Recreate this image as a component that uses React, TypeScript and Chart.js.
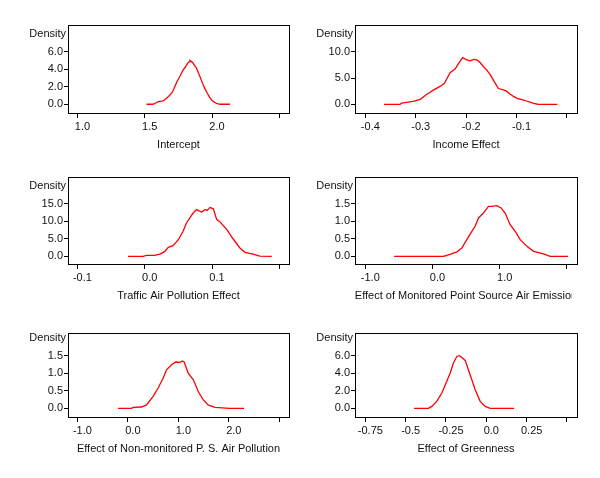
import React, { useEffect, useRef } from 'react';
import { Chart, registerables } from 'chart.js';

Chart.register(...registerables);

const FONT = '"Liberation Sans", Arial, Helvetica, sans-serif';

// ---------- Data ----------
// Panel 1: Intercept
const interceptX = [1.513, 1.56, 1.59, 1.6, 1.625, 1.637, 1.65, 1.662, 1.68, 1.7, 1.712, 1.724, 1.74, 1.761, 1.775, 1.786, 1.8, 1.811, 1.822, 1.83, 1.836, 1.845, 1.856, 1.87, 1.885, 1.898, 1.91, 1.922, 1.935, 1.95, 1.965, 1.98, 1.997, 2.015, 2.034, 2.06, 2.133];
const interceptY = [0, 0, 0.2, 0.3, 0.35, 0.38, 0.55, 0.69, 0.95, 1.26, 1.6, 2.02, 2.6, 3.17, 3.6, 3.93, 4.2, 4.5, 4.75, 4.85, 5.02, 4.9, 4.77, 4.45, 4.13, 3.6, 3.17, 2.7, 2.21, 1.7, 1.26, 0.85, 0.49, 0.25, 0.11, 0, 0];
const interceptXTicks = [1.0, 1.5, 2.0, 2.5];
const interceptXLabels = ['1.0', '1.5', '2.0', ''];
const interceptYTicks = [0, 2, 4, 6];
const interceptYLabels = ['0.0', '2.0', '4.0', '6.0'];

// Panel 2: Income Effect
const incomeX = [-0.363, -0.331, -0.328, -0.305, -0.291, -0.285, -0.278, -0.265, -0.252, -0.243, -0.238, -0.232, -0.222, -0.215, -0.207, -0.2, -0.192, -0.185, -0.178, -0.172, -0.166, -0.159, -0.152, -0.146, -0.136, -0.126, -0.12, -0.113, -0.106, -0.099, -0.086, -0.076, -0.066, -0.06, -0.056, -0.019];
const incomeY = [0, 0, 0.25, 0.55, 0.95, 1.4, 1.9, 2.7, 3.4, 4.0, 4.9, 6.0, 6.7, 7.8, 8.9, 8.5, 8.25, 8.55, 8.4, 7.9, 7.2, 6.5, 5.6, 4.6, 3.0, 2.75, 2.5, 1.96, 1.5, 1.14, 0.82, 0.49, 0.2, 0.06, 0, 0];
const incomeXTicks = [-0.4, -0.3, -0.2, -0.1, 0.0];
const incomeXLabels = ['-0.4', '-0.3', '-0.2', '-0.1', ''];
const incomeYTicks = [0, 5, 10];
const incomeYLabels = ['0.0', '5.0', '10.0'];

// Panel 3: Traffic Air Pollution Effect
const trafficX = [-0.0247, -0.0024, 0.0027, 0.015, 0.0225, 0.03, 0.035, 0.042, 0.05, 0.057, 0.062, 0.067, 0.072, 0.077, 0.0845, 0.0895, 0.093, 0.097, 0.102, 0.107, 0.112, 0.122, 0.1315, 0.1415, 0.149, 0.161, 0.171, 0.1887];
const trafficY = [0, 0, 0.29, 0.29, 0.67, 1.43, 2.58, 3.06, 4.77, 7.16, 9.55, 11.0, 12.4, 13.37, 12.7, 13.37, 13.2, 14.0, 13.6, 10.5, 9.85, 7.64, 4.97, 2.4, 1.15, 0.67, 0.1, 0];
const trafficXTicks = [-0.1, 0.0, 0.1, 0.2];
const trafficXLabels = ['-0.1', '0.0', '0.1', ''];
const trafficYTicks = [0, 5, 10, 15];
const trafficYLabels = ['0.0', '5.0', '10.0', '15.0'];

// Panel 4: Effect of Monitored Point Source Air Emission
const monitoredX = [-0.572, 0.162, 0.262, 0.361, 0.436, 0.51, 0.585, 0.634, 0.684, 0.758, 0.832, 0.883, 0.957, 1.02, 1.08, 1.155, 1.23, 1.304, 1.404, 1.503, 1.652, 1.75, 2.015];
const monitoredY = [0, 0, 0.06, 0.126, 0.24, 0.48, 0.716, 0.86, 1.1, 1.24, 1.43, 1.43, 1.45, 1.385, 1.24, 0.907, 0.716, 0.478, 0.286, 0.143, 0.07, 0, 0];
const monitoredXTicks = [-1.0, 0.0, 1.0, 2.0];
const monitoredXLabels = ['-1.0', '0.0', '1.0', ''];
const monitoredYTicks = [0, 0.5, 1.0, 1.5];
const monitoredYLabels = ['0.0', '0.5', '1.0', '1.5'];

// Panel 5: Effect of Non-monitored P. S. Air Pollution
const nonMonitoredX = [-0.194, 0.071, 0.103, 0.27, 0.37, 0.5, 0.6, 0.7, 0.766, 0.865, 0.95, 1.03, 1.083, 1.115, 1.195, 1.295, 1.394, 1.49, 1.59, 1.725, 2.02, 2.3];
const nonMonitoredY = [0, 0, 0.03, 0.04, 0.1, 0.34, 0.58, 0.865, 1.1, 1.24, 1.32, 1.31, 1.35, 1.32, 1.0, 0.82, 0.48, 0.25, 0.1, 0.03, 0, 0];
const nonMonitoredXTicks = [-1.0, 0.0, 1.0, 2.0, 3.0];
const nonMonitoredXLabels = ['-1.0', '0.0', '1.0', '2.0', ''];
const nonMonitoredYTicks = [0, 0.5, 1.0, 1.5];
const nonMonitoredYLabels = ['0.0', '0.5', '1.0', '1.5'];

// Panel 6: Effect of Greenness
const greennessX = [-0.448, -0.359, -0.338, -0.307, -0.276, -0.245, -0.224, -0.204, -0.183, -0.167, -0.148, -0.131, -0.111, -0.09, -0.069, -0.038, -0.007, 0.024, 0.172];
const greennessY = [0, 0, 0.23, 0.8, 1.75, 3.08, 4.03, 5.17, 5.92, 6.0, 5.74, 5.47, 4.41, 3.27, 2.13, 0.8, 0.23, 0, 0];
const greennessXTicks = [-0.75, -0.5, -0.25, 0.0, 0.25, 0.5];
const greennessXLabels = ['-0.75', '-0.5', '-0.25', '0.0', '0.25', ''];
const greennessYTicks = [0, 2, 4, 6];
const greennessYLabels = ['0.0', '2.0', '4.0', '6.0'];

// ---------- Panels ----------
type Panel = {
  title: string;
  xs: number[]; ys: number[];
  xTicks: number[]; xLabels: string[];
  yTicks: number[]; yLabels: string[];
  xMin: number; xMax: number; yMin: number; yMax: number;
  col: number; row: number;
};

const panels: Panel[] = [
  { title: 'Intercept', xs: interceptX, ys: interceptY, xTicks: interceptXTicks, xLabels: interceptXLabels, yTicks: interceptYTicks, yLabels: interceptYLabels, xMin: 0.93, xMax: 2.572, yMin: -1.0, yMax: 9.06, col: 0, row: 0 },
  { title: 'Income Effect', xs: incomeX, ys: incomeY, xTicks: incomeXTicks, xLabels: incomeXLabels, yTicks: incomeYTicks, yLabels: incomeYLabels, xMin: -0.4205, xMax: 0.0199, yMin: -1.65, yMax: 15.08, col: 1, row: 0 },
  { title: 'Traffic Air Pollution Effect', xs: trafficX, ys: trafficY, xTicks: trafficXTicks, xLabels: trafficXLabels, yTicks: trafficYTicks, yLabels: trafficYLabels, xMin: -0.114, xMax: 0.2144, yMin: -2.18, yMax: 22.7, col: 0, row: 1 },
  { title: 'Effect of Monitored Point Source Air Emission', xs: monitoredX, ys: monitoredY, xTicks: monitoredXTicks, xLabels: monitoredXLabels, yTicks: monitoredYTicks, yLabels: monitoredYLabels, xMin: -1.153, xMax: 2.149, yMin: -0.218, yMax: 2.27, col: 1, row: 1 },
  { title: 'Effect of Non-monitored P. S. Air Pollution', xs: nonMonitoredX, ys: nonMonitoredY, xTicks: nonMonitoredXTicks, xLabels: nonMonitoredXLabels, yTicks: nonMonitoredYTicks, yLabels: nonMonitoredYLabels, xMin: -1.186, xMax: 3.192, yMin: -0.245, yMax: 2.146, col: 0, row: 2 },
  { title: 'Effect of Greenness', xs: greennessX, ys: greennessY, xTicks: greennessXTicks, xLabels: greennessXLabels, yTicks: greennessYTicks, yLabels: greennessYLabels, xMin: -0.814, xMax: 0.562, yMin: -0.98, yMax: 8.59, col: 1, row: 2 },
];

// layout (pixels)
const colLeft = [0, 300];
const colWidth = 300;
const colAxisW = [68, 55];      // width of y-axis area => box left
const colPadRight = [11, 23];   // => box right
const rowTop = [0, 160, 320];
const rowHeight = [160, 160, 158];
const rowPadTop = [25, 17, 13];
const rowBoxBottom = [113, 104, 97];

const textPlugin = {
  id: 'panelText',
  afterDraw(chart: any) {
    const { ctx, chartArea } = chart;
    const opts = chart.options.plugins.panelText;
    const { left, top, right, bottom } = chartArea;
    ctx.save();
    // box
    ctx.strokeStyle = '#000';
    ctx.lineWidth = 1;
    ctx.strokeRect(Math.round(left) + 0.5, Math.round(top) + 0.5, Math.round(right - left), Math.round(bottom - top));
    // Density label
    const ys = chart.scales.y;
    const topTick = opts.topTick;
    const yd = ys.getPixelForValue(topTick) - 17.5;
    ctx.fillStyle = '#111';
    ctx.font = '11px ' + FONT;
    ctx.textAlign = 'right';
    ctx.textBaseline = 'middle';
    ctx.fillText('Density', left - 2, yd);
    // x title (clipped to box width)
    ctx.beginPath();
    ctx.rect(left, 0, right - left - 5, chart.height);
    ctx.clip();
    ctx.textAlign = 'center';
    ctx.fillText(opts.title, (left + right) / 2, bottom + 32);
    ctx.restore();
  },
};

function PanelChart({ p }: { p: Panel }) {
  const ref = useRef<HTMLCanvasElement | null>(null);
  useEffect(() => {
    if (!ref.current) return;
    const h = rowHeight[p.row];
    const xAxisH = h - rowBoxBottom[p.row];
    const yAxisW = colAxisW[p.col];
    const tickFont = { family: FONT, size: 11 };
    const chart = new Chart(ref.current, {
      type: 'line',
      data: {
        datasets: [
          {
            data: p.xs.map((x, i) => ({ x, y: p.ys[i] })),
            borderColor: '#ff0000',
            borderWidth: 1.3,
            pointRadius: 0,
            tension: 0,
            fill: false,
          },
        ],
      },
      options: {
        animation: false,
        responsive: false,
        maintainAspectRatio: false,
        devicePixelRatio: 1,
        events: [],
        layout: { padding: { left: 0, top: rowPadTop[p.row], right: colPadRight[p.col], bottom: 0 } },
        plugins: {
          legend: { display: false },
          tooltip: { enabled: false },
          title: { display: false },
          panelText: { title: p.title, topTick: p.yTicks[p.yTicks.length - 1] },
        } as any,
        scales: {
          x: {
            type: 'linear',
            min: p.xMin,
            max: p.xMax,
            afterFit: (s: any) => { s.height = xAxisH; },
            afterBuildTicks: (s: any) => { s.ticks = p.xTicks.map((v) => ({ value: v })); },
            ticks: {
              autoSkip: false,
              maxRotation: 0,
              callback: (_v: any, i: number) => p.xLabels[i],
              font: tickFont,
              color: '#111',
              padding: 2,
              labelOffset: 5,
            },
            grid: { display: true, drawOnChartArea: false, drawTicks: true, tickLength: 5, color: '#000', lineWidth: 1 },
            border: { display: false },
          },
          y: {
            type: 'linear',
            min: p.yMin,
            max: p.yMax,
            afterFit: (s: any) => { s.width = yAxisW; },
            afterBuildTicks: (s: any) => { s.ticks = p.yTicks.map((v) => ({ value: v })); },
            ticks: {
              autoSkip: false,
              callback: (_v: any, i: number) => p.yLabels[i],
              font: tickFont,
              color: '#111',
              padding: 1,
            },
            grid: { display: true, drawOnChartArea: false, drawTicks: true, tickLength: 4, color: '#000', lineWidth: 1 },
            border: { display: false },
          },
        },
      } as any,
      plugins: [textPlugin],
    });
    return () => chart.destroy();
  }, [p]);
  const w = colWidth;
  const h = rowHeight[p.row];
  return (
    <canvas
      ref={ref}
      width={w}
      height={h}
      style={{ position: 'absolute', left: colLeft[p.col], top: rowTop[p.row], width: w, height: h }}
    />
  );
}

export default function App() {
  return (
    <div style={{ position: 'fixed', left: 0, top: 0, width: 600, height: 478, background: '#fff', overflow: 'hidden' }}>
      {panels.map((p, i) => (
        <PanelChart key={i} p={p} />
      ))}
    </div>
  );
}
